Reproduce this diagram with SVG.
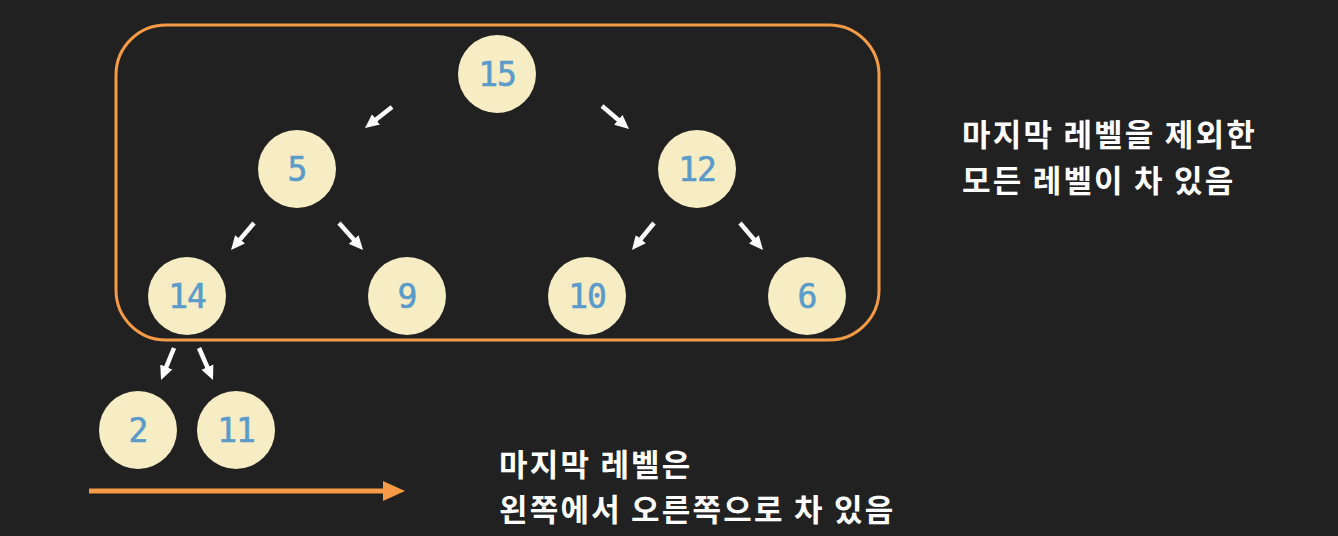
<svg xmlns="http://www.w3.org/2000/svg" width="1338" height="536" viewBox="0 0 1338 536">
<defs>
<style>
.node circle{fill:#F7EDC4;}
.node text{font-family:"DejaVu Sans Mono","Liberation Mono",monospace;font-size:33px;fill:#5B9BC9;stroke:#5B9BC9;stroke-width:0.6;text-anchor:middle;letter-spacing:-1px;}
.lbl{font-family:"Noto Sans CJK KR","Noto Sans",sans-serif;font-weight:bold;font-size:31px;letter-spacing:2.2px;fill:#FFFFFF;}
.edge{stroke:#FFFFFF;stroke-width:4.5;fill:none;marker-end:url(#wh);}
</style>
<marker id="wh" markerUnits="userSpaceOnUse" viewBox="0 0 14 14" markerWidth="14" markerHeight="14" refX="4" refY="7" orient="auto">
<path d="M0,0.5 L14,7 L0,13.5 z" fill="#FFFFFF"/>
</marker>
<marker id="oh" markerUnits="userSpaceOnUse" viewBox="0 0 22 20" markerWidth="22" markerHeight="20" refX="2" refY="10" orient="auto">
<path d="M0,0 L22,10 L0,20 z" fill="#F59A45"/>
</marker>
</defs>
<rect width="1338" height="536" fill="#212121"/>
<g id="frame">
<rect x="116" y="25" width="763" height="315" rx="50" ry="50" fill="none" stroke="#F59A45" stroke-width="3"/>
</g>
<g id="connectors">
<line class="edge" x1="392" y1="107" x2="372.9" y2="121.9"/>
<line class="edge" x1="602" y1="106" x2="621.4" y2="122.5"/>
<line class="edge" x1="254" y1="223" x2="237.5" y2="242.4"/>
<line class="edge" x1="339" y1="223" x2="356.4" y2="242.5"/>
<line class="edge" x1="654" y1="223" x2="638.3" y2="242.2"/>
<line class="edge" x1="740" y1="223" x2="756.5" y2="242.4"/>
<line class="edge" x1="174" y1="348" x2="164.8" y2="370.7"/>
<line class="edge" x1="199" y1="348" x2="209" y2="370.8"/>
<line x1="89" y1="491" x2="385" y2="491" stroke="#F59A45" stroke-width="5" marker-end="url(#oh)"/>
</g>
<g id="n15" class="node"><circle cx="497" cy="74" r="39"/><text x="497" y="86">15</text></g>
<g id="n5" class="node"><circle cx="297" cy="169" r="39"/><text x="297" y="181">5</text></g>
<g id="n12" class="node"><circle cx="697" cy="169" r="39"/><text x="697" y="181">12</text></g>
<g id="n14" class="node"><circle cx="187" cy="296" r="39"/><text x="187" y="308">14</text></g>
<g id="n9" class="node"><circle cx="407" cy="296" r="39"/><text x="407" y="308">9</text></g>
<g id="n10" class="node"><circle cx="587" cy="296" r="39"/><text x="587" y="308">10</text></g>
<g id="n6" class="node"><circle cx="807" cy="296" r="39"/><text x="807" y="308">6</text></g>
<g id="n2" class="node"><circle cx="138" cy="430" r="39"/><text x="138" y="442">2</text></g>
<g id="n11" class="node"><circle cx="236" cy="430" r="39"/><text x="236" y="442">11</text></g>
<g id="note1">
<text class="lbl" x="962" y="146">마지막 레벨을 제외한</text>
<text class="lbl" x="962" y="192">모든 레벨이 차 있음</text>
</g>
<g id="note2">
<text class="lbl" x="499" y="476">마지막 레벨은</text>
<text class="lbl" x="499" y="521">왼쪽에서 오른쪽으로 차 있음</text>
</g>
</svg>
